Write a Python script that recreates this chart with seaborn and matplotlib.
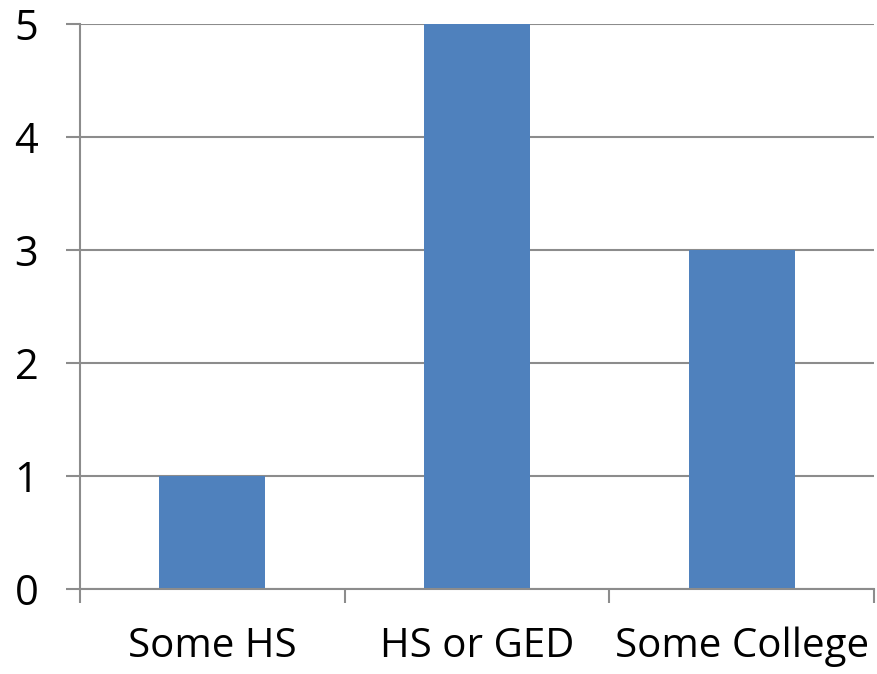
import matplotlib
matplotlib.use("Agg")
import matplotlib.pyplot as plt
import seaborn as sns
import pandas as pd

categories = ["Some HS", "HS or GED", "Some College"]
counts = [1, 5, 3]
y_ticks = [0, 1, 2, 3, 4, 5]

sns.set_theme(style="white")
plt.rcParams["font.family"] = ["Open Sans", "DejaVu Sans"]

df = pd.DataFrame({"level": categories, "count": counts})

fig = plt.figure(figsize=(8.77, 6.74), dpi=100)
ax = fig.add_axes([80 / 877, (674 - 589) / 674, (874 - 80) / 877, (589 - 24) / 674])

line_color = "#8c8c8c"
sns.barplot(data=df, x="level", y="count", order=categories, color="#4f81bd",
            saturation=1, width=0.4, ax=ax, zorder=2, linewidth=0, edgecolor="none")

ax.set_xlim(-0.5, len(categories) - 0.5)
ax.set_ylim(0, 5)
ax.set_xlabel("")
ax.set_ylabel("")

# horizontal gridlines behind the bars
ax.set_axisbelow(True)
ax.yaxis.grid(True, color=line_color, linewidth=1.5)
ax.xaxis.grid(False)

ax.set_yticks(y_ticks)
ax.set_yticklabels([str(v) for v in y_ticks])

# category boundary ticks without labels, labels at the centers
ax.set_xticks([i - 0.5 for i in range(len(categories) + 1)])
ax.set_xticklabels([""] * (len(categories) + 1))
ax.set_xticks(range(len(categories)), minor=True)
ax.set_xticklabels(categories, minor=True)

ax.tick_params(axis="y", which="major", direction="out", length=10, width=1.5,
               color=line_color, pad=20, labelsize=30, labelcolor="black", left=True)
ax.tick_params(axis="x", which="major", direction="out", length=10, width=1.5,
               color=line_color, bottom=True)
ax.tick_params(axis="x", which="minor", length=0, pad=27, labelsize=29,
               labelcolor="black", bottom=True)

for side in ["top", "right"]:
    ax.spines[side].set_visible(False)
for side in ["left", "bottom"]:
    ax.spines[side].set_color(line_color)
    ax.spines[side].set_linewidth(1.5)

fig.savefig("out.png", dpi=100, facecolor="white")
